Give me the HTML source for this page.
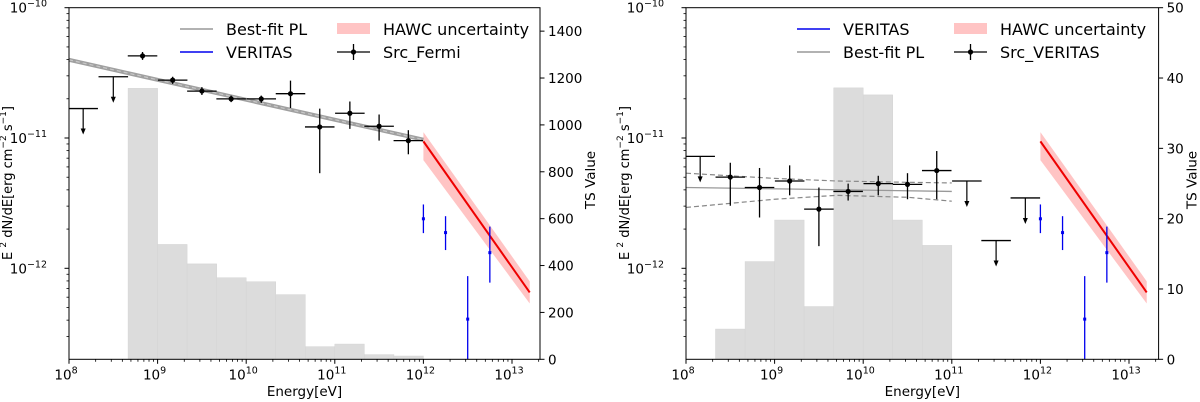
<!DOCTYPE html>
<html><head><meta charset="utf-8">
<style>
html,body{margin:0;padding:0;background:#fff;}
svg{display:block;font-family:"DejaVu Sans","Liberation Sans",sans-serif;}
</style></head>
<body>
<svg id="chart" width="1200" height="402" viewBox="0 0 1200 402" xmlns="http://www.w3.org/2000/svg"></svg>
<script>
// ---- data (log10 energy in eV, log10 flux in erg cm^-2 s^-1) ----
const fermiE = [8.83, 9.17, 9.5, 9.83, 10.17, 10.5, 10.83, 11.17, 11.5, 11.83];
const fermiF = [-10.37, -10.556, -10.64, -10.70, -10.70, -10.66, -10.915, -10.81, -10.91, -11.02];
const fermiLo = [-10.40, -10.585, -10.67, -10.725, -10.73, -10.77, -11.27, -10.93, -11.02, -11.125];
const fermiHi = [-10.34, -10.53, -10.61, -10.675, -10.675, -10.56, -10.775, -10.72, -10.82, -10.94];
const fermiUlE = [8.16, 8.5];
const fermiUlF = [-10.774, -10.53];
const fermiTsEdges = [8.667, 9.0, 9.333, 9.667, 10.0, 10.333, 10.667, 11.0, 11.333, 11.667, 12.0];
const fermiTs = [1156, 490, 407, 348, 331, 276, 54, 65, 20, 14];
const fermiPlE = [8, 12];
const fermiPlF = [-10.40, -11.013];

const vSrcE = [8.5, 8.83, 9.17, 9.5, 9.83, 10.17, 10.5, 10.83];
const vSrcF = [-11.30, -11.38, -11.33, -11.546, -11.41, -11.35, -11.356, -11.25];
const vSrcLo = [-11.52, -11.61, -11.44, -11.83, -11.48, -11.44, -11.47, -11.47];
const vSrcHi = [-11.19, -11.23, -11.21, -11.38, -11.35, -11.29, -11.27, -11.10];
const vSrcUlE = [8.16, 11.17, 11.5, 11.83];
const vSrcUlF = [-11.141, -11.33, -11.787, -11.46];
const vTsEdges = [8.333, 8.667, 9.0, 9.333, 9.667, 10.0, 10.333, 10.667, 11.0];
const vTs = [4.3, 13.9, 19.8, 7.5, 38.6, 37.6, 19.8, 16.2];
const vPlE = [8, 11];
const vPlF = [-11.38, -11.41];
const vBandE = [8, 9, 9.7, 10.5, 11];
const vBandUp = [-11.27, -11.31, -11.33, -11.34, -11.345];
const vBandLow = [-11.533, -11.47, -11.44, -11.455, -11.485];

const veritasE = [12.0, 12.25, 12.5, 12.75];
const veritasF = [-11.62, -11.726, -12.39, -11.88];
const veritasLo = [-11.73, -11.86, -12.75, -12.11];
const veritasHi = [-11.51, -11.60, -12.06, -11.68];

const hawcE = [12.0, 13.2];
const hawcF = [-11.026, -12.185];
const hawcUp = [-10.955, -12.10];
const hawcLow = [-11.17, -12.27];

const xTicks = [8, 9, 10, 11, 12, 13];
const yTicks = [-10, -11, -12];
const tsTicksL = [0, 200, 400, 600, 800, 1000, 1200, 1400];
const tsTicksR = [0, 10, 20, 30, 40, 50];

const NS = "http://www.w3.org/2000/svg";
const svg = document.getElementById('chart');
function mk(tag, attrs, parent) {
  const e = document.createElementNS(NS, tag);
  for (const k in attrs) e.setAttribute(k, attrs[k]);
  (parent || svg).appendChild(e);
  return e;
}

function panel(cfg) {
  const x0 = cfg.x0, x1 = cfg.x1, top = 7.7, bot = 359.3, dec = 88.6;
  const X = lg => x0 + (lg - 8) * dec;
  const Y = lf => top + (-10 - lf) * 130.3;
  const T = ts => bot - ts * (bot - top) / cfg.tsMax;
  const g = mk('g', {});
  
  
  const clipId = cfg.name + '-clip';
  const cp = mk('clipPath', {id: clipId}, g);
  mk('rect', {x: x0, y: top, width: x1 - x0, height: bot - top}, cp);
  const plot = mk('g', {'clip-path': 'url(#' + clipId + ')'}, g);

  // TS histogram
  for (let i = 0; i < cfg.ts.length; i++) {
    const r = mk('rect', {x: X(cfg.tsEdges[i]), y: T(cfg.ts[i]), width: X(cfg.tsEdges[i + 1]) - X(cfg.tsEdges[i]), height: bot - T(cfg.ts[i]), fill: '#dcdcdc', stroke: '#d4d4d4', 'stroke-width': 0.5}, plot);
    
    
  }
  // HAWC band
  const band = mk('polygon', {points: `${X(hawcE[0])},${Y(hawcUp[0])} ${X(hawcE[1])},${Y(hawcUp[1])} ${X(hawcE[1])},${Y(hawcLow[1])} ${X(hawcE[0])},${Y(hawcLow[0])}`, fill: '#ffc4c4'}, plot);
  
  
  const hl = mk('line', {x1: X(hawcE[0]), y1: Y(hawcF[0]), x2: X(hawcE[1]), y2: Y(hawcF[1]), stroke: '#ee0000', 'stroke-width': 2}, plot);
  
  

  // best-fit PL
  if (cfg.band) {
    const mkPath = arr => cfg.bandE.map((e, i) => (i ? 'L' : 'M') + X(e) + ',' + Y(arr[i])).join(' ');
    const u = mk('path', {d: mkPath(cfg.bandUp), fill: 'none', stroke: '#888', 'stroke-width': 1.2, 'stroke-dasharray': '5,3'}, plot);
    
    
    const l = mk('path', {d: mkPath(cfg.bandLow), fill: 'none', stroke: '#888', 'stroke-width': 1.2, 'stroke-dasharray': '5,3'}, plot);
    
    
    const p = mk('line', {x1: X(cfg.plE[0]), y1: Y(cfg.plF[0]), x2: X(cfg.plE[1]), y2: Y(cfg.plF[1]), stroke: '#999', 'stroke-width': 1.3}, plot);
    
    
  } else {
    const p = mk('line', {x1: X(cfg.plE[0]), y1: Y(cfg.plF[0]), x2: X(cfg.plE[1]), y2: Y(cfg.plF[1]), stroke: '#a0a0a0', 'stroke-width': 4}, plot);
    
    
    const p2 = mk('line', {x1: X(cfg.plE[0]), y1: Y(cfg.plF[0]), x2: X(cfg.plE[1]), y2: Y(cfg.plF[1]), stroke: '#c8c8c8', 'stroke-width': 1.2, 'stroke-dasharray': '4,3'}, plot);
    
    
  }

  // VERITAS points
  for (let i = 0; i < veritasE.length; i++) {
    const gg = mk('g', {}, plot);
    
    
    const x = X(veritasE[i]);
    mk('line', {x1: x, x2: x, y1: Y(veritasHi[i]), y2: Y(veritasLo[i]), stroke: '#0000ee', 'stroke-width': 1.3}, gg);
    mk('rect', {x: x - 1.5, y: Y(veritasF[i]) - 1.5, width: 3, height: 3, fill: '#0000ee'}, gg);
  }
  // source points
  const hw = dec / 6;
  for (let i = 0; i < cfg.srcE.length; i++) {
    const gg = mk('g', {}, plot);
    
    
    const x = X(cfg.srcE[i]), y = Y(cfg.srcF[i]);
    mk('line', {x1: x - hw, x2: x + hw, y1: y, y2: y, stroke: '#000', 'stroke-width': 1.3}, gg);
    mk('line', {x1: x, x2: x, y1: Y(cfg.srcHi[i]), y2: Y(cfg.srcLo[i]), stroke: '#000', 'stroke-width': 1.3}, gg);
    mk('circle', {cx: x, cy: y, r: 2.6, fill: '#000'}, gg);
  }
  for (let i = 0; i < cfg.ulE.length; i++) {
    const gg = mk('g', {}, plot);
    
    
    const x = X(cfg.ulE[i]), y = Y(cfg.ulF[i]);
    mk('line', {x1: x - hw, x2: x + hw, y1: y, y2: y, stroke: '#000', 'stroke-width': 1.3}, gg);
    mk('line', {x1: x, x2: x, y1: y, y2: y + 24, stroke: '#000', 'stroke-width': 1.2}, gg);
    mk('path', {d: `M${x - 2.5},${y + 20} L${x},${y + 26} L${x + 2.5},${y + 20} Z`, fill: '#000'}, gg);
  }

  // axes frame
  const fr = mk('rect', {x: x0, y: top, width: x1 - x0, height: bot - top, fill: 'none', stroke: '#000', 'stroke-width': 1}, g);
  
  
  // x ticks
  for (const t of xTicks) {
    if (X(t) > x1 + 0.5) continue;
    mk('line', {x1: X(t), x2: X(t), y1: bot, y2: bot + 4.5, stroke: '#000', 'stroke-width': 1}, g);
    const tx = mk('text', {x: X(t) - 3, y: bot + 20, 'font-size': 13.5, 'text-anchor': 'middle'}, g);
    
    
    tx.innerHTML = '10<tspan dy="-6" font-size="9.5">' + t + '</tspan>';
    for (let m = 2; m <= 9; m++) {
      const xm = X(t + Math.log10(m));
      if (xm > x1) break;
      mk('line', {x1: xm, x2: xm, y1: bot, y2: bot + 2.5, stroke: '#000', 'stroke-width': 0.8}, g);
    }
  }
  // y ticks
  for (const t of yTicks) {
    mk('line', {x1: x0 - 4.5, x2: x0, y1: Y(t), y2: Y(t), stroke: '#000', 'stroke-width': 1}, g);
    const tx = mk('text', {x: x0 - 22, y: Y(t) + 5, 'font-size': 13.5, 'text-anchor': 'end'}, g);
    
    
    tx.innerHTML = '10<tspan dy="-6" font-size="9.5">\u2212' + (-t) + '</tspan>';
  }
  for (let d = -13; d <= -11; d++) for (let m = 2; m <= 9; m++) {
    const ym = Y(d + Math.log10(m));
    if (ym < top || ym > bot) continue;
    mk('line', {x1: x0 - 2.5, x2: x0, y1: ym, y2: ym, stroke: '#000', 'stroke-width': 0.8}, g);
  }
  // TS ticks
  for (const t of cfg.tsTicks) {
    mk('line', {x1: x1, x2: x1 + 4.5, y1: T(t), y2: T(t), stroke: '#000', 'stroke-width': 1}, g);
    const tx = mk('text', {x: x1 + 8, y: T(t) + 5, 'font-size': 13.5}, g);
    
    
    tx.textContent = t;
  }
  // axis titles
  const xl = mk('text', {x: (x0 + x1) / 2, y: 396, 'font-size': 13.5, 'text-anchor': 'middle'}, g);
  
  
  xl.textContent = 'Energy[eV]';
  const yl = mk('text', {x: 0, y: 0, 'font-size': 13, 'text-anchor': 'middle', transform: `translate(${x0 - 57},183) rotate(-90)`}, g);
  
  
  yl.innerHTML = 'E <tspan dy="-6" font-size="9">2</tspan><tspan dy="6"> dN/dE[erg cm</tspan><tspan dy="-6" font-size="9">\u22122</tspan><tspan dy="6"> s</tspan><tspan dy="-6" font-size="9">\u22121</tspan><tspan dy="6">]</tspan>';
  const tl = mk('text', {x: 0, y: 0, 'font-size': 13.5, 'text-anchor': 'middle', transform: `translate(${x1 + cfg.tsTitleOff},180) rotate(-90)`}, g);
  
  
  tl.textContent = 'TS Value';

  // legend
  const lg = mk('g', {}, g);
  
  
  const lx = cfg.legX;
  cfg.legend.forEach((it, i) => {
    const yy = i === 0 ? 29 : 52;
    const e = mk('g', {}, lg);
    
    
    if (it === 'pl') mk('line', {x1: lx, x2: lx + 33, y1: yy, y2: yy, stroke: '#999', 'stroke-width': 1.5}, e);
    else mk('line', {x1: lx, x2: lx + 33, y1: yy, y2: yy, stroke: '#0000ee', 'stroke-width': 1.5}, e);
    const t = mk('text', {x: lx + 46, y: yy + 6, 'font-size': 16}, e);
    t.textContent = it === 'pl' ? 'Best-fit PL' : 'VERITAS';
  });
  const e1 = mk('g', {}, lg);
  
  
  mk('rect', {x: lx + 157, y: 23, width: 33, height: 11, fill: '#ffc4c4'}, e1);
  mk('text', {x: lx + 203, y: 35, 'font-size': 16}, e1).textContent = 'HAWC uncertainty';
  const e2 = mk('g', {}, lg);
  
  
  mk('line', {x1: lx + 157, x2: lx + 190, y1: 52, y2: 52, stroke: '#000', 'stroke-width': 1.3}, e2);
  mk('line', {x1: lx + 173.5, x2: lx + 173.5, y1: 44, y2: 60, stroke: '#000', 'stroke-width': 1.3}, e2);
  mk('circle', {cx: lx + 173.5, cy: 52, r: 2.6, fill: '#000'}, e2);
  mk('text', {x: lx + 203, y: 58, 'font-size': 16}, e2).textContent = cfg.srcName;
}

panel({name: 'fermi-panel', x0: 69, x1: 540, tsMax: 1500, tsEdges: fermiTsEdges, ts: fermiTs,
  plE: fermiPlE, plF: fermiPlF, band: false,
  srcE: fermiE, srcF: fermiF, srcLo: fermiLo, srcHi: fermiHi, ulE: fermiUlE, ulF: fermiUlF,
  tsTicks: tsTicksL, tsTitleOff: 55, legX: 180, legend: ['pl', 'veritas'], srcName: 'Src_Fermi'});
panel({name: 'veritas-panel', x0: 686, x1: 1158.6, tsMax: 50, tsEdges: vTsEdges, ts: vTs,
  plE: vPlE, plF: vPlF, band: true, bandE: vBandE, bandUp: vBandUp, bandLow: vBandLow,
  srcE: vSrcE, srcF: vSrcF, srcLo: vSrcLo, srcHi: vSrcHi, ulE: vSrcUlE, ulF: vSrcUlF,
  tsTicks: tsTicksR, tsTitleOff: 38, legX: 797, legend: ['veritas', 'pl'], srcName: 'Src_VERITAS'});
</script>
</body></html>
